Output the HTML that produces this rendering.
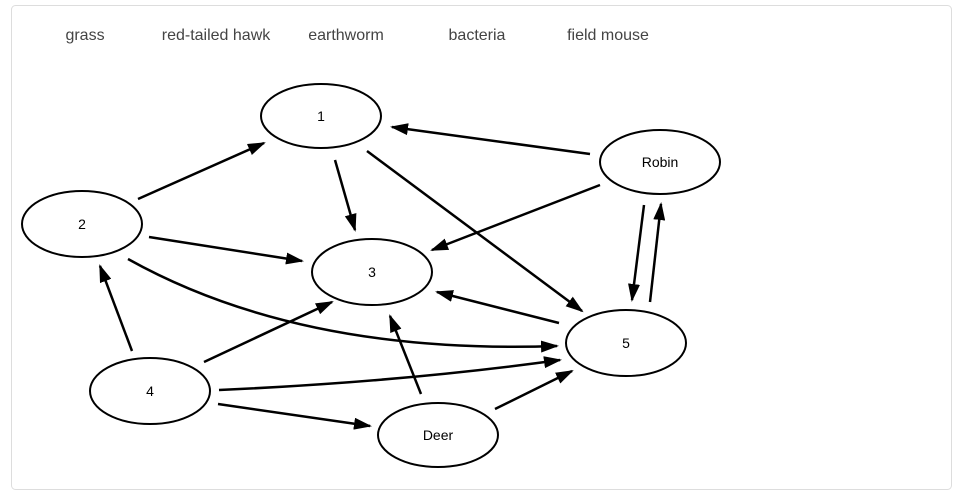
<!DOCTYPE html>
<html><head><meta charset="utf-8"><style>
html,body{margin:0;padding:0;background:#fff;}
svg{display:block;}
</style></head><body>
<svg width="964" height="498" viewBox="0 0 964 498" xmlns="http://www.w3.org/2000/svg">
<defs>
<marker id="b" markerWidth="18" markerHeight="12" refX="16" refY="6" orient="auto" markerUnits="userSpaceOnUse" viewBox="0 0 18 12">
<path d="M0,0 L18,6 L0,12 z" fill="#000"/>
</marker>
</defs>
<rect x="11.5" y="5.5" width="940" height="484" rx="4" fill="#fff" stroke="#ddd"/>
<g font-family="Liberation Sans, sans-serif" font-size="16" fill="#444" text-anchor="middle">
<text x="85" y="40">grass</text>
<text x="216" y="40">red-tailed hawk</text>
<text x="346" y="40">earthworm</text>
<text x="477" y="40">bacteria</text>
<text x="608" y="40">field mouse</text>
</g>
<g fill="none" stroke="#000" stroke-width="2">
<ellipse cx="321" cy="116" rx="60" ry="32"/>
<ellipse cx="660" cy="162" rx="60" ry="32"/>
<ellipse cx="82" cy="224" rx="60" ry="33"/>
<ellipse cx="372" cy="272" rx="60" ry="33"/>
<ellipse cx="626" cy="343" rx="60" ry="33"/>
<ellipse cx="150" cy="391" rx="60" ry="33"/>
<ellipse cx="438" cy="435" rx="60" ry="32"/>
</g>
<g fill="none" stroke="#000" stroke-width="2.5" marker-end="url(#b)">
<line x1="138" y1="199" x2="264" y2="143"/>
<line x1="149" y1="237" x2="302" y2="261"/>
<path d="M128,259 Q300,355 557,346"/>
<line x1="132" y1="351" x2="100" y2="266"/>
<line x1="204" y1="362" x2="332" y2="302"/>
<path d="M219,390 Q400,382 560,360"/>
<line x1="218" y1="404" x2="370" y2="426"/>
<line x1="421" y1="394" x2="390" y2="316"/>
<line x1="495" y1="409" x2="572" y2="371"/>
<line x1="559" y1="323" x2="437" y2="292"/>
<line x1="335" y1="160" x2="355" y2="230"/>
<line x1="367" y1="151" x2="582" y2="311"/>
<line x1="590" y1="154" x2="392" y2="127"/>
<line x1="600" y1="185" x2="432" y2="250"/>
<line x1="644" y1="205" x2="632" y2="300"/>
<line x1="650" y1="302" x2="661" y2="204"/>
</g>
<g font-family="Liberation Sans, sans-serif" font-size="14" fill="#000" text-anchor="middle">
<text x="321" y="121">1</text>
<text x="660" y="167">Robin</text>
<text x="82" y="229">2</text>
<text x="372" y="277">3</text>
<text x="626" y="348">5</text>
<text x="150" y="396">4</text>
<text x="438" y="440">Deer</text>
</g>
</svg>
</body></html>
